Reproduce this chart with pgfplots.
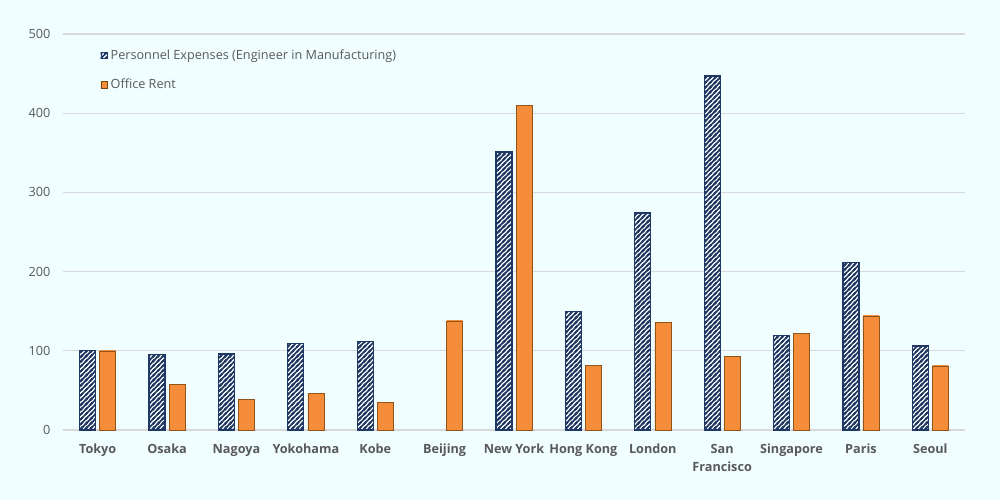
\documentclass[border=0pt]{standalone}
\usepackage{fontspec}
\setmainfont{Open Sans}
\usepackage{pgfplots}
\pgfplotsset{compat=1.18}
\usetikzlibrary{patterns}
\definecolor{bgc}{RGB}{240,254,255}
\definecolor{navyb}{RGB}{31,56,100}
\definecolor{txt}{RGB}{89,89,89}
\definecolor{gridc}{RGB}{217,217,217}
\definecolor{orL}{RGB}{205,105,30}
\definecolor{orM}{RGB}{245,140,58}
\definecolor{orR}{RGB}{120,70,15}
\pgfdeclarehorizontalshading{orsh}{100bp}{color(0bp)=(orL); color(18bp)=(orM); color(75bp)=(orM); color(86bp)=(orM!55!orR); color(100bp)=(orR)}
\pgfdeclarepatterninherentlycolored{navystripes}{\pgfpoint{-1pt}{-1pt}}{\pgfpoint{4.6pt}{4.6pt}}{\pgfpoint{3.6pt}{3.6pt}}{%
  \pgfsetcolor{navyb}\pgfsetlinewidth{1.25pt}%
  \pgfpathmoveto{\pgfpoint{-1pt}{-1pt}}\pgfpathlineto{\pgfpoint{4.6pt}{4.6pt}}%
  \pgfpathmoveto{\pgfpoint{-1pt}{2.6pt}}\pgfpathlineto{\pgfpoint{1pt}{4.6pt}}%
  \pgfpathmoveto{\pgfpoint{2.6pt}{-1pt}}\pgfpathlineto{\pgfpoint{4.6pt}{1pt}}%
  \pgfusepath{stroke}}
\pgfplotsset{orstyle/.style={ybar, bar width=12pt, bar shift=7.5pt, draw=orR!80!orM, line width=0.3pt,
  shading=orsh, forget plot}}
\newcommand{\orbar}[2]{\addplot[orstyle] coordinates {(#1,#2)};}
\begin{document}
\begin{tikzpicture}
\fill[bgc] (-47.25pt,-52.5pt) rectangle (702.75pt,322.5pt);
\begin{axis}[
  at={(0,0)}, anchor=south west,
  scale only axis, width=676.5pt, height=297pt,
  ymin=0, ymax=500, ytick={0,100,...,500},
  xmin=-0.5, xmax=12.5,
  xtick={0,...,12},
  xticklabels={Tokyo,Osaka,Nagoya,Yokohama,Kobe,Beijing,New York,Hong Kong,London,San\\Francisco,Singapore,Paris,Seoul},
  xticklabel style={font=\bfseries\fontsize{9.5}{14}\selectfont, text=txt, align=center, yshift=-7pt},
  yticklabel style={font=\fontsize{9.5}{11}\selectfont, text=txt, xshift=-6pt},
  /pgf/number format/assume math mode=true,
  axis line style={draw=none},
  tick style={draw=none},
  ymajorgrids, major grid style={gridc, line width=0.8pt},
  legend style={at={(0.037,0.975)}, anchor=north west, draw=none, fill=none,
    font=\fontsize{9.5}{11}\selectfont, text=txt, row sep=9pt, cells={anchor=west}},
  legend cell align=left,
  clip=false,
]
\addlegendimage{legend image code/.code={\draw[draw=navyb, line width=0.5pt, fill=white, postaction={pattern=navystripes}] (0pt,-2.5pt) rectangle (5pt,2.5pt);}}
\addlegendentry{Personnel Expenses (Engineer in Manufacturing)}
\addlegendimage{legend image code/.code={\draw[draw=orR, line width=0.3pt, shading=orsh] (0pt,-2.5pt) rectangle (5pt,2.5pt);}}
\addlegendentry{Office Rent}
\addplot[ybar, bar width=12pt, bar shift=-7.5pt, draw=navyb, line width=0.9pt, fill=white,
  postaction={pattern=navystripes}, forget plot]
  coordinates {(0,100) (1,95) (2,96) (3,109) (4,112) (6,351) (7,150) (8,274) (9,447) (10,119) (11,211) (12,106)};
\orbar{0}{100}
\orbar{1}{58}
\orbar{2}{39}
\orbar{3}{46}
\orbar{4}{35}
\orbar{5}{138}
\orbar{6}{410}
\orbar{7}{82}
\orbar{8}{136}
\orbar{9}{93}
\orbar{10}{122}
\orbar{11}{144}
\orbar{12}{81}
\end{axis}
\end{tikzpicture}
\end{document}
